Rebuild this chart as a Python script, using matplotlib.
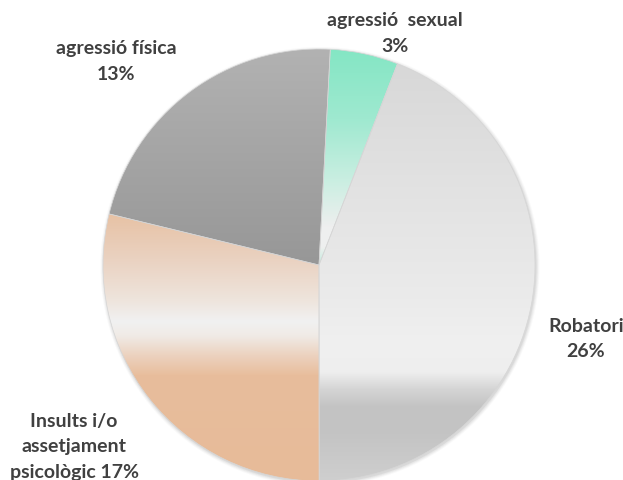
import numpy as np
import matplotlib
matplotlib.use('Agg')
import matplotlib.pyplot as plt
import matplotlib.colors as mcolors
from matplotlib.patches import Circle

plt.rcParams['font.family'] = ['Lato', 'DejaVu Sans']

# data
names = ['agressió  sexual', 'Robatori', 'Insults i/o\nassetjament\npsicològic', 'agressió física']
values = [3, 26, 17, 13]
seps = ['\n', '\n', ' ', '\n']

# gradient stops per slice, (pixel row from top, colour)
fills = [
    [(50, '#84e6c4'), (120, '#9fe9d0'), (180, '#c9eee1'), (228, '#efefef'), (248, '#eef0ef'), (268, '#b8eadb')],
    [(55, '#d7d7d7'), (200, '#e3e3e3'), (300, '#ebebeb'), (345, '#f0f0f0'), (373, '#eeeeee'),
     (390, '#d4d4d4'), (408, '#c3c3c3'), (435, '#c4c4c4'), (482, '#cfcfcf')],
    [(215, '#e7c2a5'), (260, '#ead2c1'), (300, '#eee4dc'), (322, '#f1f1f1'), (336, '#f0ebe6'),
     (356, '#ecd2bf'), (376, '#e8bd9c'), (482, '#e7bb99')],
    [(50, '#b2b2b2'), (266, '#979797')],
]

W, H = 623, 481
cx, cy, r = 319, 266, 216          # pixel coords, y from top

fig = plt.figure(figsize=(W / 100, H / 100), dpi=100)
ax = fig.add_axes([0, 0, 1, 1])

# soft shadow around the pie
for k, a in enumerate([0.10, 0.08, 0.06, 0.04]):
    ax.add_patch(Circle((cx + 1, H - cy - 1.5), r + 0.5 + k, color='#707070', alpha=a, lw=0, zorder=1))

wedges, _ = ax.pie(values, center=(cx, H - cy), radius=r, startangle=87, counterclock=False,
                   wedgeprops=dict(edgecolor='#d6d6d6', linewidth=0.5))

rows = np.arange(cy - r, cy + r + 1)
for w, stops in zip(wedges, fills):
    ys = [s[0] for s in stops]
    cols = np.array([mcolors.to_rgb(s[1]) for s in stops])
    grad = np.stack([np.interp(rows, ys, cols[:, c]) for c in range(3)], axis=-1)[:, None, :]
    im = ax.imshow(grad, extent=(cx - r, cx + r, H - cy - r - 1, H - cy + r), aspect='auto',
                   interpolation='bilinear', zorder=2)
    im.set_clip_path(w)
    w.set_facecolor('none')
    w.set_zorder(3)

# labels
label_pos = [(395, 26), (586, 332), (74, 427), (116, 54)]
for name, v, sep, (lx, ly) in zip(names, values, seps, label_pos):
    lines = (name + sep + f'{v}%').split('\n')
    for i, line in enumerate(lines):
        ax.text(lx, H - (ly + i * 25.5), line, ha='center', va='baseline',
                fontsize=14, fontweight='bold', color='#404040')

ax.set_xlim(0, W)
ax.set_ylim(0, H)
ax.set_aspect('auto')
ax.axis('off')

fig.savefig('out.png', dpi=100, facecolor='white')
